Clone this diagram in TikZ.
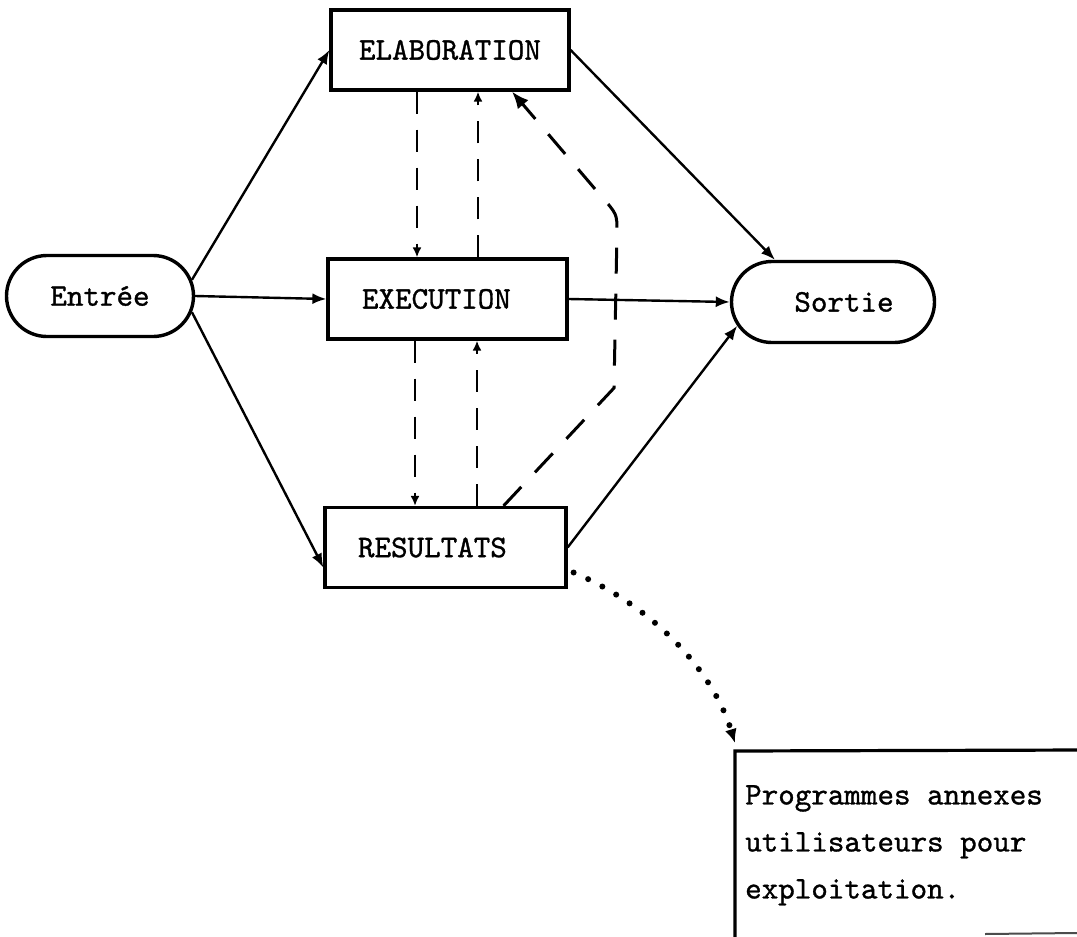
\documentclass[tikz,border=0pt]{standalone}
\usepackage{fontspec}
\setmonofont{lmmono10-regular.otf}[FakeBold=1.0]
\usetikzlibrary{arrows.meta,shapes.misc}
\begin{document}
\begin{tikzpicture}[x=1pt,y=-1pt,
  lbl/.style={font=\fontsize{31.5}{37}\selectfont\ttfamily},
  box/.style={lbl,draw,line width=3.2pt,rectangle,minimum height=80pt,align=left},
  oval/.style={lbl,draw,line width=3.4pt,rounded rectangle,minimum height=81pt,inner sep=0pt},
  conn/.style={line width=2.4pt,-{Latex[length=14pt,width=11pt]}},
  dconn/.style={line width=2.6pt,dash pattern=on 22pt off 16pt,-{Latex[length=10pt,width=9pt]}},
  ldconn/.style={line width=3pt,dash pattern=on 26pt off 20pt,-{Latex[length=17pt,width=14pt]}},
  dotconn/.style={line width=6pt,line cap=round,dash pattern=on 0pt off 16pt,-{Latex[length=14pt,width=12pt]}}]
\clip (0,0) rectangle (1077,937);
\fill[white] (0,0) rectangle (1077,937);

\node[box,text width=182pt,inner xsep=28pt] (elab) at (450,50) {ELABORATION};
\node[box,text width=171pt,inner xsep=34pt] (exec) at (447.5,299) {EXECUTION};
\node[box,text width=175pt,inner xsep=33pt] (res) at (445.5,547.5) {RESULTATS};
\node[oval,minimum width=187pt] (entree) at (100,296) {Entrée};
\node[oval,minimum width=203pt] (sortie) at (833,302) {\hspace*{22pt}Sortie};

% bottom box
\draw[line width=3.2pt] (735,945) -- (735,751) -- (1085,750);
\draw[line width=2pt,black!70] (985,934) -- (1077,933);
\coordinate (progc) at (735,751);
\node[lbl,font=\fontsize{31.5}{47}\selectfont\ttfamily,anchor=north west,inner sep=0pt,align=left] (prog) at (745,785)
  {Programmes annexes\\utilisateurs pour\\exploitation.};

% solid connectors
\draw[conn] (entree.10) -- (elab.west);
\draw[conn] (entree.east) -- (exec.west);
\draw[conn] (entree.-10) -- ([yshift=-20pt]res.west);
\draw[conn] (elab.east) -- (sortie.144);
\draw[conn] (exec.east) -- (sortie.west);
\draw[conn] (res.east) -- (sortie.194);

% dashed verticals
\draw[dconn] ([xshift=-33pt]elab.south) -- ([xshift=-30.5pt]exec.north);
\draw[dconn] ([xshift=30.5pt]exec.north) -- ([xshift=28pt]elab.south);
\draw[dconn] ([xshift=-32.5pt]exec.south) -- ([xshift=-30.5pt]res.north);
\draw[dconn] ([xshift=31.5pt]res.north) -- ([xshift=29.5pt]exec.south);

% long dashed feedback
\draw[ldconn] ([xshift=58pt]res.north) -- (614,388) -- (617,232) .. controls (617,214) .. (601,196) -- ([xshift=62pt]elab.south);

% dotted connector
\draw[dotconn] ([xshift=6pt,yshift=-25pt]res.east) .. controls (650,605) and (712,668) .. ([yshift=8pt]progc);
\end{tikzpicture}
\end{document}
